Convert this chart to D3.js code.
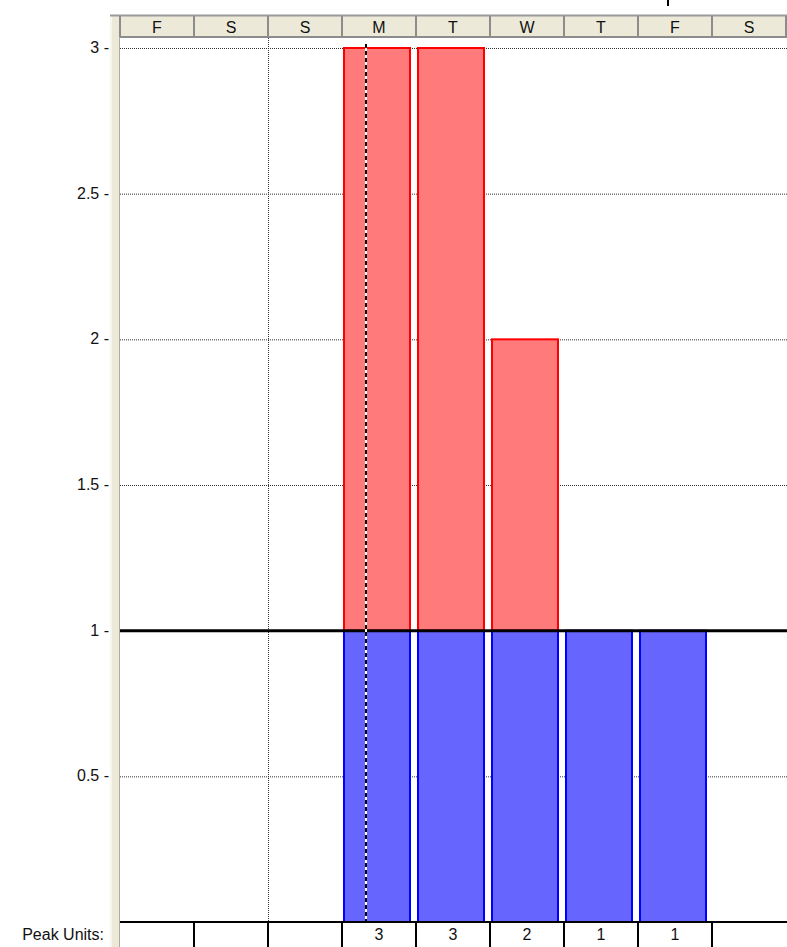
<!DOCTYPE html>
<html>
<head>
<meta charset="utf-8">
<script src="https://cdn.jsdelivr.net/npm/d3@7"></script>
<style>
  body { margin: 0; background: #fff; }
  svg { display: block; font-family: Tahoma, "Liberation Sans", sans-serif; }
</style>
</head>
<body>
<svg></svg>
<script>
var width = 787;
var height = 947;

// days shown on the header strip
var days = ["F", "S", "S", "M", "T", "W", "T", "F", "S"];
// peak units per day (null = no value)
var peakUnits = [null, null, null, 3, 3, 2, 1, 1, null];
var capacity = 1;
var yTicks = [0.5, 1, 1.5, 2, 2.5, 3];

var svg = d3.select("svg")
  .attr("width", width)
  .attr("height", height);

var plotLeft = 120, plotRight = 786, plotTop = 38, plotBottom = 922;
var fontSize = "16px";

var x = d3.scaleBand()
  .domain(d3.range(days.length))
  .range([plotLeft, plotRight]);

var y = d3.scaleLinear()
  .domain([0, 3])
  .range([plotBottom, 48]);

// left beige strip
svg.append("rect").attr("x", 110).attr("y", 15).attr("width", 10).attr("height", height - 15).attr("fill", "#ece9d8");
svg.append("line").attr("x1", 111).attr("x2", 111).attr("y1", 15).attr("y2", height).attr("stroke", "#f6f5ee").attr("stroke-width", 2);
svg.append("line").attr("x1", 119.5).attr("x2", 119.5).attr("y1", 15).attr("y2", height).attr("stroke", "#b0ad9e").attr("stroke-width", 1);

// header row
svg.append("rect").attr("x", plotLeft).attr("y", 15).attr("width", width - plotLeft).attr("height", plotTop - 15).attr("fill", "#ece9d8");
svg.append("line").attr("x1", 110).attr("x2", width).attr("y1", 15.5).attr("y2", 15.5).attr("stroke", "#9a9a9a").attr("stroke-width", 2);
svg.append("line").attr("x1", plotLeft).attr("x2", width).attr("y1", 37).attr("y2", 37).attr("stroke", "#8c8c8c").attr("stroke-width", 2);
svg.selectAll(".hsep")
  .data(d3.range(days.length + 1))
  .enter().append("line")
  .attr("x1", function(i) { return Math.min(x.step() * i + plotLeft, width - 1); })
  .attr("x2", function(i) { return Math.min(x.step() * i + plotLeft, width - 1); })
  .attr("y1", 16).attr("y2", 37)
  .attr("stroke", "#8c8c8c").attr("stroke-width", 2);
svg.selectAll(".hday")
  .data(days)
  .enter().append("text")
  .attr("x", function(d, i) { return x(i) + x.bandwidth() / 2; })
  .attr("y", 33)
  .attr("text-anchor", "middle")
  .attr("font-size", fontSize)
  .attr("fill", "#111")
  .text(function(d) { return d; });

// horizontal dotted grid
svg.selectAll(".grid")
  .data(yTicks.filter(function(t) { return t !== capacity; }))
  .enter().append("line")
  .attr("x1", plotLeft).attr("x2", width)
  .attr("y1", function(d) { return y(d) + 0.5; })
  .attr("y2", function(d) { return y(d) + 0.5; })
  .attr("stroke", "#333").attr("stroke-width", 1)
  .attr("stroke-dasharray", "1,1");

// weekend separator (dotted)
svg.append("line")
  .attr("x1", x(2) + 0.5).attr("x2", x(2) + 0.5)
  .attr("y1", plotTop).attr("y2", plotBottom)
  .attr("stroke", "#333").attr("stroke-width", 1)
  .attr("stroke-dasharray", "1,1");

// y labels
svg.selectAll(".ylab")
  .data(yTicks)
  .enter().append("text")
  .attr("x", 109)
  .attr("y", function(d) { return y(d) + 5; })
  .attr("text-anchor", "end")
  .attr("font-size", fontSize)
  .attr("fill", "#111")
  .text(function(d) { return d + " -"; });

// bars
var bars = svg.selectAll(".bar")
  .data(peakUnits.map(function(v, i) { return {i: i, v: v}; }).filter(function(d) { return d.v; }))
  .enter().append("g");

bars.append("rect")
  .attr("x", function(d) { return x(d.i) + 2; })
  .attr("width", x.bandwidth() - 8)
  .attr("y", function(d) { return y(Math.min(d.v, capacity)); })
  .attr("height", function(d) { return y(0) - y(Math.min(d.v, capacity)); })
  .attr("fill", "#6666ff")
  .attr("stroke", "#0000ff").attr("stroke-width", 2);

bars.filter(function(d) { return d.v > capacity; })
  .append("rect")
  .attr("x", function(d) { return x(d.i) + 2; })
  .attr("width", x.bandwidth() - 8)
  .attr("y", function(d) { return y(d.v); })
  .attr("height", function(d) { return y(capacity) - y(d.v); })
  .attr("fill", "#ff7a7a")
  .attr("stroke", "#ff0000").attr("stroke-width", 2);

// capacity line
svg.append("line")
  .attr("x1", plotLeft).attr("x2", width)
  .attr("y1", y(capacity)).attr("y2", y(capacity))
  .attr("stroke", "#000").attr("stroke-width", 3);

// today marker (dashed black/white)
var todayX = 366;
svg.append("line")
  .attr("x1", todayX).attr("x2", todayX)
  .attr("y1", 44).attr("y2", plotBottom)
  .attr("stroke", "#fff").attr("stroke-width", 2);
svg.append("line")
  .attr("x1", todayX).attr("x2", todayX)
  .attr("y1", 44).attr("y2", plotBottom)
  .attr("stroke", "#000").attr("stroke-width", 2)
  .attr("stroke-dasharray", "4,3");

// top marker
svg.append("line")
  .attr("x1", 668).attr("x2", 668)
  .attr("y1", 0).attr("y2", 6)
  .attr("stroke", "#000").attr("stroke-width", 2);

// peak units row
svg.append("line")
  .attr("x1", plotLeft).attr("x2", width)
  .attr("y1", plotBottom).attr("y2", plotBottom)
  .attr("stroke", "#000").attr("stroke-width", 2);
svg.selectAll(".psep")
  .data(d3.range(1, days.length))
  .enter().append("line")
  .attr("x1", function(i) { return x(i); })
  .attr("x2", function(i) { return x(i); })
  .attr("y1", plotBottom).attr("y2", height)
  .attr("stroke", "#000").attr("stroke-width", 2);
svg.selectAll(".pval")
  .data(peakUnits)
  .enter().append("text")
  .attr("x", function(d, i) { return x(i) + x.bandwidth() / 2; })
  .attr("y", 940)
  .attr("text-anchor", "middle")
  .attr("font-size", fontSize)
  .attr("fill", "#111")
  .text(function(d) { return d == null ? "" : d; });
svg.append("text")
  .attr("x", 104).attr("y", 940)
  .attr("text-anchor", "end")
  .attr("font-size", fontSize)
  .attr("fill", "#111")
  .text("Peak Units:");
</script>
</body>
</html>
